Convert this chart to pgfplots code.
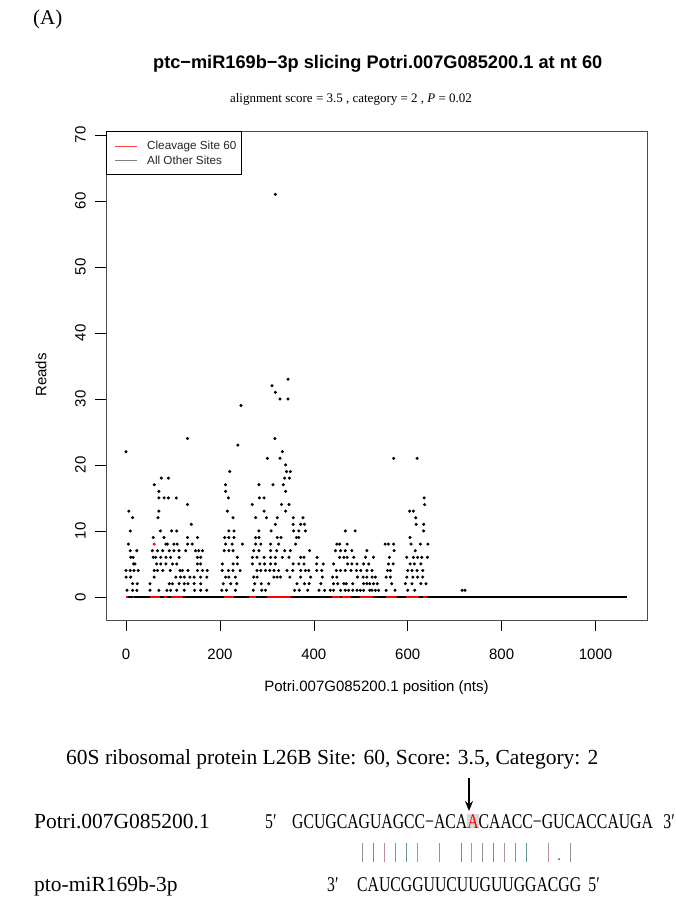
\documentclass[border=0pt]{standalone}
\usepackage{pgfplots}
\pgfplotsset{compat=1.18}
\usepackage{fontspec}
\setmainfont{Liberation Serif}
\setsansfont{Liberation Sans}
\newfontfamily\seqfont[FakeStretch=0.75]{Liberation Serif}
\usetikzlibrary{arrows.meta}
\definecolor{barA}{RGB}{140,150,150}
\definecolor{barB}{RGB}{95,150,150}
\definecolor{barC}{RGB}{190,140,150}

\begin{document}
\begin{tikzpicture}
\path[use as bounding box] (0,0) rectangle (676pt,-912pt);

\begin{axis}[
  at={(106pt,-620pt)}, anchor=south west,
  scale only axis, width=541pt, height=489pt,
  xmin=-42.7, xmax=1109.7, ymin=-3.5, ymax=70.6,
  xtick={0,200,...,1000}, ytick={0,10,...,70},
  tick align=outside, xtick pos=left, ytick pos=left,
  major tick length=11pt,
  axis line style={black!70, line width=0.8pt},
  tick style={black, line width=0.6pt},
  ticklabel style={font=\sffamily\fontsize{15}{15}\selectfont},
  /pgf/number format/assume math mode=true,
  /pgf/number format/set thousands separator={},
  xticklabel style={yshift=-14pt},
  yticklabel style={rotate=90, anchor=south, inner ysep=9pt},
]
% zero line: red under, black on top where the other sites sit
\addplot[red, line width=2.6pt] coordinates {(0,0)(645,0)};
\addplot[black, line width=2.6pt, unbounded coords=jump] coordinates {
(4,0)(14,0)(15,nan)(18,0)(50,0)(51,nan)(73,0)(80,0)(81,nan)(88,0)(95,0)(96,nan)
(122,0)(208,0)(209,nan)(229,0)(262,0)(263,nan)(276,0)(300,0)(301,nan)
(352,0)(438,0)(439,nan)(456,0)(461,0)(462,nan)(480,0)(498,0)(499,nan)
(527,0)(553,0)(554,nan)(578,0)(596,0)(597,nan)(624,0)(632,0)(633,nan)(641,0)(1067,0)
};

% all other sites
\addplot[only marks, mark=*, mark size=1.35pt, black] coordinates {
(2,1)(14,1)(23,1)(51,1)(70,1)(87,1)(95,1)(108,1)(124,1)(146,1)(159,1)(172,1)(204,1)(214,1)(233,1)(271,1)(289,1)(297,1)(359,1)(369,1)(387,1)(411,1)(423,1)(435,1)(442,1)(457,1)(467,1)(474,1)(483,1)(492,1)(499,1)(506,1)(519,1)(524,1)(531,1)(538,1)(554,1)(573,1)(600,1)(615,1)(716,1)(722,1)
(14,2)(24,2)(51,2)(92,2)(99,2)(113,2)(124,2)(132,2)(145,2)(159,2)(207,2)(223,2)(236,2)(274,2)(288,2)(304,2)(364,2)(380,2)(390,2)(415,2)(442,2)(451,2)(464,2)(469,2)(483,2)(506,2)(513,2)(519,2)(527,2)(535,2)(566,2)(595,2)(609,2)(628,2)(639,2)
(0,3)(10,3)(60,3)(106,3)(116,3)(124,3)(136,3)(145,3)(159,3)(172,3)(212,3)(219,3)(233,3)(272,3)(279,3)(315,3)(322,3)(329,3)(349,3)(372,3)(393,3)(418,3)(440,3)(449,3)(493,3)(505,3)(513,3)(524,3)(531,3)(554,3)(563,3)(598,3)(611,3)(621,3)(632,3)
(0,4)(9,4)(17,4)(26,4)(60,4)(67,4)(78,4)(94,4)(115,4)(120,4)(132,4)(152,4)(163,4)(173,4)(205,4)(218,4)(228,4)(243,4)(279,4)(287,4)(297,4)(306,4)(315,4)(325,4)(343,4)(355,4)(372,4)(382,4)(389,4)(406,4)(417,4)(448,4)(457,4)(467,4)(479,4)(491,4)(500,4)(513,4)(524,4)(557,4)(563,4)(600,4)(609,4)(620,4)(632,4)
(16,5)(19,5)(65,5)(74,5)(85,5)(99,5)(108,5)(152,5)(159,5)(205,5)(228,5)(237,5)(269,5)(285,5)(295,5)(308,5)(318,5)(356,5)(368,5)(379,5)(406,5)(420,5)(442,5)(472,5)(481,5)(492,5)(506,5)(517,5)(559,5)(569,5)(605,5)(614,5)(628,5)
(10,6)(15,6)(58,6)(63,6)(74,6)(85,6)(95,6)(113,6)(152,6)(159,6)(237,6)(269,6)(279,6)(294,6)(308,6)(318,6)(333,6)(347,6)(372,6)(379,6)(407,6)(455,6)(464,6)(471,6)(485,6)(510,6)(527,6)(561,6)(598,6)(612,6)(621,6)(630,6)(642,6)
(9,7)(23,7)(56,7)(67,7)(78,7)(92,7)(102,7)(113,7)(127,7)(148,7)(155,7)(163,7)(209,7)(219,7)(228,7)(272,7)(283,7)(308,7)(321,7)(338,7)(350,7)(391,7)(446,7)(457,7)(467,7)(481,7)(513,7)(571,7)(616,7)
(5,8)(85,8)(88,8)(102,8)(109,8)(131,8)(141,8)(212,8)(226,8)(248,8)(276,8)(287,8)(308,8)(325,8)(361,8)(449,8)(455,8)(471,8)(552,8)(559,8)(570,8)(607,8)(627,8)(643,8)
(58,9)(81,9)(131,9)(152,9)(210,9)(219,9)(230,9)(276,9)(283,9)(322,9)(330,9)(363,9)(368,9)(605,9)
(9,10)(73,10)(97,10)(108,10)(219,10)(230,10)(283,10)(309,10)(357,10)(368,10)(382,10)(467,10)(488,10)(634,10)
(139,11)(318,11)(356,11)(372,11)(380,11)(618,11)(634,11)
(14,12)(68,12)(228,12)(276,12)(299,12)(322,12)(356,12)(377,12)(617,12)
(6,13)(70,13)(216,13)(294,13)(340,13)(604,13)(612,13)
(131,14)(269,14)(331,14)(347,14)(636,14)
(70,15)(81,15)(90,15)(107,15)(218,15)(284,15)(294,15)(635,15)
(70,16)(212,16)(340,16)
(60,17)(212,17)(283,17)(313,17)(335,17)
(75,18)(90,18)(338,18)(348,18)
(221,19)(342,19)(350,19)
(340,20)
(301,21)(328,21)(570,21)(620,21)
(0,22)(333,22)
(238,23)
(131,24)(317,24)
(245,29)
(328,30)(345,30)
(318,31)
(311,32)
(345,33)
(318,61)
};

% cleavage site
\addplot[only marks, mark=*, mark size=1.35pt, red] coordinates {(60,8)};
\end{axis}

% legend box (top left of the plot)
\draw[black, line width=0.6pt, fill=white] (106pt,-131pt) rectangle (241pt,-174pt);
\draw[red!75, line width=0.8pt] (115pt,-146pt) -- (137pt,-146pt);
\draw[gray, line width=0.8pt] (115pt,-160.5pt) -- (137pt,-160.5pt);
\node[anchor=west, inner sep=0pt, font=\sffamily\fontsize{11.7}{12}\selectfont, text=black!85] at (147pt,-146pt) {Cleavage Site 60};
\node[anchor=west, inner sep=0pt, font=\sffamily\fontsize{11.7}{12}\selectfont, text=black!85] at (147pt,-160.5pt) {All Other Sites};

% titles and axis labels
\node[anchor=base west, inner sep=0pt, font=\fontsize{21}{21}\selectfont] at (33pt,-25pt) {(A)};
\node[anchor=base, font=\sffamily\bfseries\fontsize{18.2}{18}\selectfont] at (377.7pt,-69pt)
  {ptc−miR169b−3p slicing Potri.007G085200.1 at nt 60};
\node[anchor=base, font=\fontsize{13}{13}\selectfont] at (351pt,-103pt)
  {alignment score = 3.5 , category = 2 , \textit{P} = 0.02};
\node[font=\sffamily\fontsize{15}{15}\selectfont] at (376.5pt,-688pt)
  {Potri.007G085200.1 position (nts)};
\node[rotate=90, font=\sffamily\fontsize{15}{15}\selectfont] at (41pt,-375pt) {Reads};

% alignment panel
\node[anchor=base west, inner sep=0pt, font=\fontsize{21.5}{22}\selectfont] at (66pt,-764pt)
  {60S ribosomal protein L26B Site: 60, Score: 3.5, Category: 2};
\draw[-{Stealth[length=10pt,width=8pt]}, line width=1.5pt] (469pt,-778pt) -- (469pt,-811pt);
\node[anchor=base west, inner sep=0pt, font=\fontsize{21.5}{22}\selectfont] at (34pt,-828pt) {Potri.007G085200.1};
\node[anchor=base west, inner sep=0pt, font=\seqfont\fontsize{21}{22}\selectfont] at (265pt,-828pt) {5′};
\node[anchor=base west, inner sep=0pt, font=\seqfont\fontsize{21}{22}\selectfont] at (292pt,-828pt)
  {GCUGCAGUAGCC−ACA{\setlength{\fboxsep}{0pt}\colorbox{gray!30}{\textcolor{red}{A}}}CAACC−GUCACCAUGA};
\node[anchor=base east, inner sep=0pt, font=\seqfont\fontsize{21}{22}\selectfont] at (675pt,-828pt) {3′};
\foreach \i/\c in {0/barA,1/barB,2/barC,3/barA,4/barB,5/barC,7/barA,9/barB,10/barC,11/barA,12/barB,13/barC,14/barA,15/barB,17/barC,19/barA}
  \draw[\c, line width=0.8pt] ({362.8pt+10.9pt*\i},-843pt) -- ({362.8pt+10.9pt*\i},-862pt);
\fill[black!70] ({362.8pt+10.9pt*18},-859pt) circle (1pt);
\node[anchor=base west, inner sep=0pt, font=\fontsize{21.5}{22}\selectfont] at (34pt,-891pt) {pto-miR169b-3p};
\node[anchor=base west, inner sep=0pt, font=\seqfont\fontsize{21}{22}\selectfont] at (327pt,-891pt) {3′};
\node[anchor=base west, inner sep=0pt, font=\seqfont\fontsize{21}{22}\selectfont] at (357pt,-891pt)
  {CAUCGGUUCUUGUUGGACGG};
\node[anchor=base east, inner sep=0pt, font=\seqfont\fontsize{21}{22}\selectfont] at (600pt,-891pt) {5′};
\end{tikzpicture}
\end{document}
